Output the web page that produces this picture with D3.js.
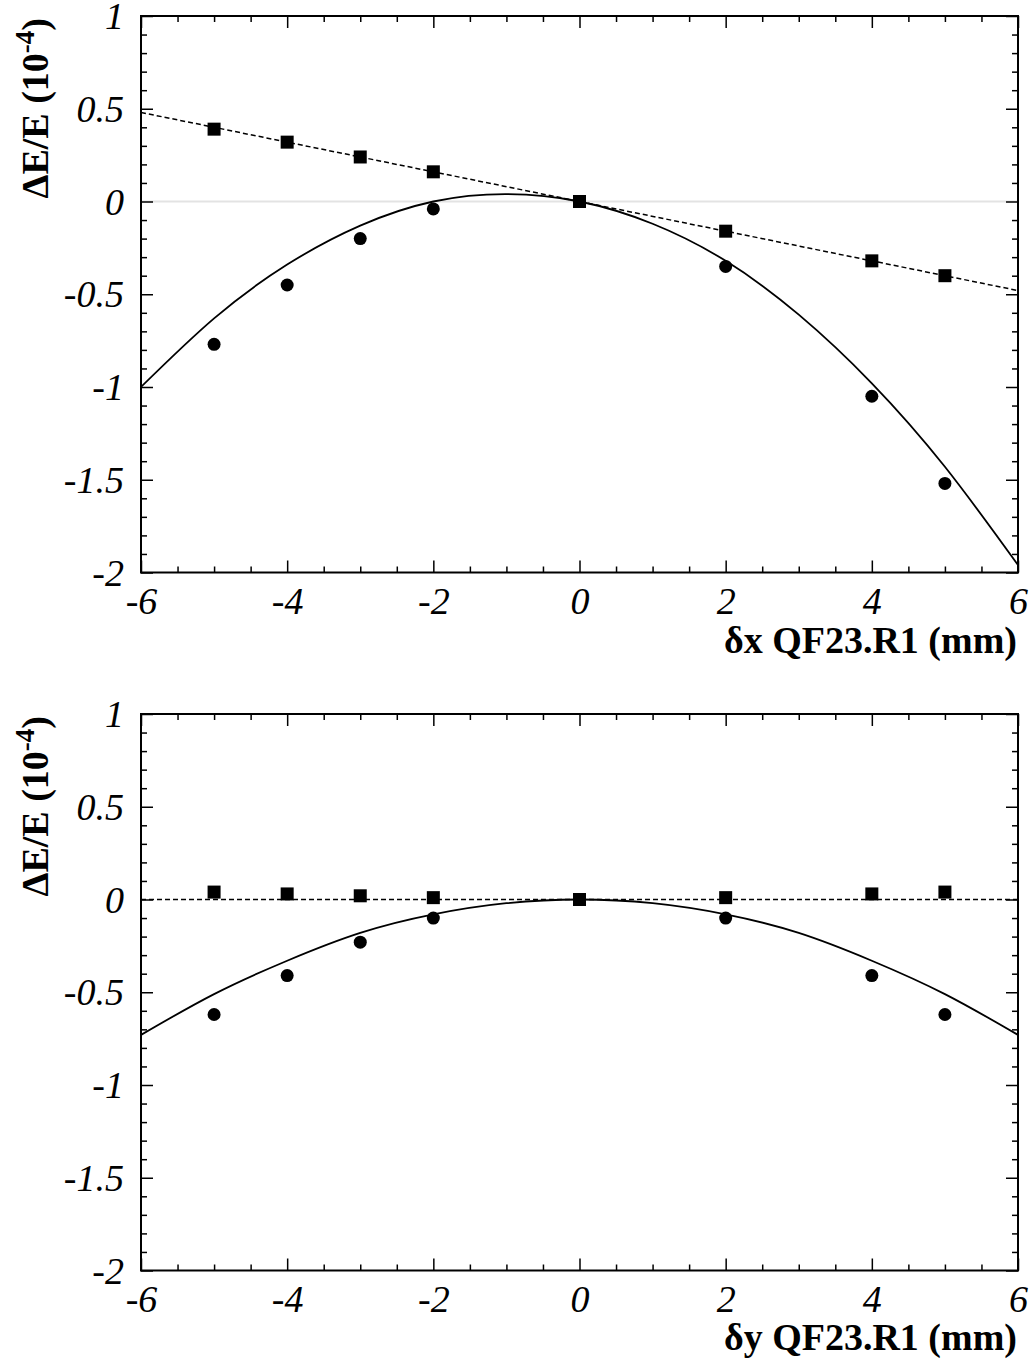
<!DOCTYPE html>
<html>
<head>
<meta charset="utf-8">
<script src="https://cdn.jsdelivr.net/npm/d3@7"></script>
<style>
  html, body { margin: 0; padding: 0; background: #fff; }
  svg { display: block; }
</style>
</head>
<body>
<svg id="chart" width="1034" height="1372"></svg>
<script>
// ---------- data ----------
const xDomain = [-6, 6];
const yDomain = [-2, 1];
const xMajorTicks = [-6, -4, -2, 0, 2, 4, 6];
const yMajorTicks = [-2, -1.5, -1, -0.5, 0, 0.5, 1];
const xTickLabels = ["-6", "-4", "-2", "0", "2", "4", "6"];
const yTickLabels = ["-2", "-1.5", "-1", "-0.5", "0", "0.5", "1"];

const pointX = [-5, -4, -3, -2, 0, 2, 4, 5];
const topSquares = [0.39, 0.32, 0.24, 0.16, 0, -0.16, -0.32, -0.40];
const topCircles = [-0.77, -0.45, -0.20, -0.04, 0, -0.35, -1.05, -1.52];
const botSquares = [0.04, 0.03, 0.02, 0.01, 0, 0.01, 0.03, 0.04];
const botCircles = [-0.62, -0.41, -0.23, -0.10, 0, -0.10, -0.41, -0.62];

const curveX = [-6, -5, -4, -3, -2, -1, 0, 1, 2, 3, 4, 5, 6];
const topCurve = [-1.00, -0.63, -0.34, -0.13, 0.00, 0.04, 0.00, -0.12, -0.32, -0.61, -0.98, -1.43, -1.96];
const botCurve = [-0.73, -0.51, -0.33, -0.18, -0.08, -0.02, 0.00, -0.02, -0.08, -0.18, -0.33, -0.51, -0.73];

const lineX = [-6, 6];
const topLine = [0.48, -0.48];
const botLine = [0, 0];

const xLabels = ["δx QF23.R1 (mm)", "δy QF23.R1 (mm)"];

// ---------- drawing ----------
const svg = d3.select("#chart");
const left = 141, right = 1018;
const serif = "'Liberation Serif', 'Times New Roman', serif";

const panels = [
  { top: 16, bottom: 572.5, squares: topSquares, circles: topCircles, curve: topCurve, line: topLine, xLabel: xLabels[0], greyZero: true, xLabOff: 80 },
  { top: 714, bottom: 1270.5, squares: botSquares, circles: botCircles, curve: botCurve, line: botLine, xLabel: xLabels[1], greyZero: false, xLabOff: 79 }
];

const range = (a, b, s) => { const r = []; for (let i = 0; a + i * s <= b + 1e-9; i++) r.push(+(a + i * s).toFixed(3)); return r; };
const xMinor = range(-6, 6, 0.5).filter(v => !xMajorTicks.includes(v));
const yMinor = range(-2, 1, 0.1).filter(v => !yMajorTicks.some(m => Math.abs(m - v) < 1e-6));

panels.forEach((p, pi) => {
  const x = d3.scaleLinear().domain(xDomain).range([left, right]);
  const y = d3.scaleLinear().domain(yDomain).range([p.bottom, p.top]);
  const g = svg.append("g");

  const clipId = "clip" + pi;
  svg.append("clipPath").attr("id", clipId).append("rect")
    .attr("x", left).attr("y", p.top).attr("width", right - left).attr("height", p.bottom - p.top);

  const plot = g.append("g").attr("clip-path", `url(#${clipId})`);

  if (p.greyZero) {
    plot.append("line")
      .attr("x1", x(xDomain[0])).attr("x2", x(xDomain[1]))
      .attr("y1", y(0)).attr("y2", y(0))
      .attr("stroke", "#e3e3e3").attr("stroke-width", 2);
  }

  // dashed linear fit
  const lineGen = d3.line().x((d, i) => x(lineX[i])).y(d => y(d));
  plot.append("path").datum(p.line)
    .attr("d", lineGen)
    .attr("fill", "none").attr("stroke", "#000").attr("stroke-width", 1.5)
    .attr("stroke-dasharray", "5,3");

  // solid quadratic curve
  const curveGen = d3.line().x((d, i) => x(curveX[i])).y(d => y(d)).curve(d3.curveNatural);
  plot.append("path").datum(p.curve)
    .attr("d", curveGen)
    .attr("fill", "none").attr("stroke", "#000").attr("stroke-width", 1.8);

  // circles
  g.selectAll(null).data(p.circles).join("circle")
    .attr("cx", (d, i) => x(pointX[i])).attr("cy", d => y(d))
    .attr("r", 6.5).attr("fill", "#000");

  // squares
  const s = 13;
  g.selectAll(null).data(p.squares).join("rect")
    .attr("x", (d, i) => x(pointX[i]) - s / 2).attr("y", d => y(d) - s / 2)
    .attr("width", s).attr("height", s).attr("fill", "#000");

  // axes: ticks inward on all four sides
  const h = p.bottom - p.top, w = right - left;
  const axes = [
    [d3.axisBottom(x).tickValues(xMajorTicks).tickSize(-12).tickFormat((d, i) => xTickLabels[i]), `translate(0,${p.bottom})`, true],
    [d3.axisBottom(x).tickValues(xMinor).tickSize(-6).tickFormat(""), `translate(0,${p.bottom})`, false],
    [d3.axisTop(x).tickValues(xMajorTicks).tickSize(-12).tickFormat(""), `translate(0,${p.top})`, false],
    [d3.axisTop(x).tickValues(xMinor).tickSize(-6).tickFormat(""), `translate(0,${p.top})`, false],
    [d3.axisLeft(y).tickValues(yMajorTicks).tickSize(-12).tickFormat((d, i) => yTickLabels[i]), `translate(${left},0)`, true],
    [d3.axisLeft(y).tickValues(yMinor).tickSize(-6).tickFormat(""), `translate(${left},0)`, false],
    [d3.axisRight(y).tickValues(yMajorTicks).tickSize(-12).tickFormat(""), `translate(${right},0)`, false],
    [d3.axisRight(y).tickValues(yMinor).tickSize(-6).tickFormat(""), `translate(${right},0)`, false]
  ];
  axes.forEach(([ax, tr, labels], ai) => {
    const ag = g.append("g").attr("transform", tr).call(ax);
    ag.select(".domain").remove();
    ag.selectAll(".tick line").attr("stroke", "#000").attr("stroke-width", 1.5);
    if (labels) {
      ag.selectAll(".tick text")
        .attr("fill", "#000")
        .attr("font-family", serif)
        .attr("font-style", "italic")
        .attr("font-size", 38);
      if (ai === 0) ag.selectAll(".tick text").attr("y", 41).attr("dy", 0);
      else ag.selectAll(".tick text").attr("x", -17).attr("dy", "0.33em");
    }
  });

  // frame
  g.append("rect").attr("x", left).attr("y", p.top).attr("width", w).attr("height", h)
    .attr("fill", "none").attr("stroke", "#000").attr("stroke-width", 2);

  // x label
  g.append("text")
    .attr("x", right - 1).attr("y", p.bottom + p.xLabOff)
    .attr("text-anchor", "end")
    .attr("font-family", serif)
    .attr("font-weight", "bold").attr("font-size", 38)
    .text(p.xLabel);

  // y label
  const yl = g.append("text")
    .attr("transform", `translate(48,${p.top + 2}) rotate(-90)`)
    .attr("text-anchor", "end")
    .attr("font-family", serif)
    .attr("font-weight", "bold").attr("font-size", 38);
  yl.append("tspan").text("ΔE/E (10");
  yl.append("tspan").attr("font-size", 27).attr("dy", -14).text("-4");
  yl.append("tspan").attr("dy", 14).text(")");
});
</script>
</body>
</html>
